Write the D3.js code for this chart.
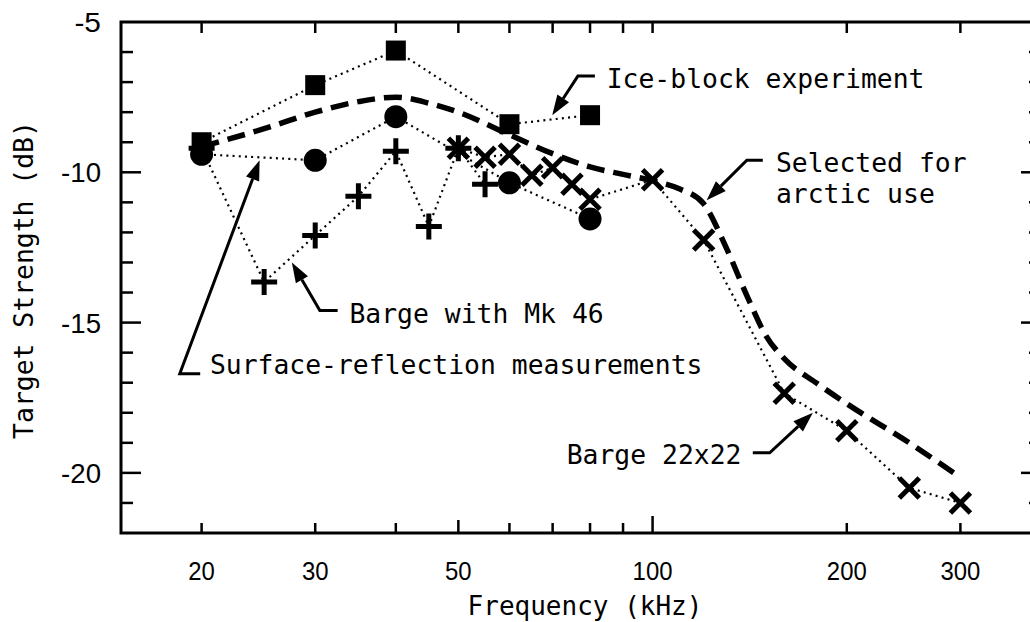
<!DOCTYPE html>
<html><head><meta charset="utf-8">
<script src="https://cdn.jsdelivr.net/npm/d3@7/dist/d3.min.js"></script>
<style>body{margin:0;background:#fff}svg{display:block}</style>
</head><body>
<svg id="chart" width="1030" height="622"></svg>
<script>
// ---------- data ----------
const xTickValues = [20, 30, 40, 50, 60, 70, 80, 90, 100, 200, 300];
const xTickLabels = ["20", "30", "", "50", "", "", "", "", "100", "200", "300"];
const yTickValues = [-5, -10, -15, -20];
const yTickLabels = ["-5", "-10", "-15", "-20"];

const iceFreq = [20, 30, 40, 60, 80];
const iceTS   = [-9.0, -7.1, -5.95, -8.4, -8.1];

const surfFreq = [20, 30, 40, 60, 80];
const surfTS   = [-9.4, -9.6, -8.15, -10.35, -11.55];

const mk46Freq = [20, 25, 30, 35, 40, 45, 50, 55];
const mk46TS   = [-9.2, -13.65, -12.1, -10.8, -9.3, -11.8, -9.2, -10.4];

const bargeFreq = [50, 55, 60, 65, 70, 75, 80, 100, 120, 160, 200, 250, 300];
const bargeTS   = [-9.2, -9.5, -9.4, -10.1, -9.85, -10.4, -10.9, -10.25, -12.25, -17.35, -18.6, -20.5, -21.0];

const arcticFreq = [20, 25, 30, 35, 40, 45, 50, 60, 70, 80, 90, 100, 110, 120, 130, 140, 150, 160, 180, 200, 250, 300];
const arcticTS   = [-9.15, -8.55, -8.0, -7.65, -7.5, -7.7, -8.0, -8.75, -9.38, -9.82, -10.07, -10.28, -10.55, -11.05, -12.5, -14.1, -15.45, -16.2, -17.03, -17.7, -19.0, -20.15];

// annotations (data units): label anchor + arrow path ending at tip
const annoText  = ["Ice-block experiment", "Selected for", "arctic use", "Barge with Mk 46", "Surface-reflection measurements", "Barge 22x22"];
const annoFreq  = [84.9, 155.3, 155.3, 33.9, 20.6, 73.6];
const annoTS    = [-7.2, -10.0, -11.03, -15.0, -16.7, -19.7];
const arrowPaths = [
  [[81.4, -6.8], [76.6, -6.8], [69.9, -8.1]],
  [[148.2, -9.6], [140.0, -9.6], [121.3, -10.93]],
  [[32.5, -14.6], [30.5, -14.6], [27.6, -13.0]],
  [[19.9, -16.7], [18.5, -16.7], [24.6, -9.6]],
  [[143.0, -19.33], [151.9, -19.33], [177.2, -18.0]]
];

// ---------- scales ----------
const svg = d3.select("#chart");
const x = d3.scaleLog().domain([15, 400]).range([121, 1041]);
const y = d3.scaleLinear().domain([-22, -5]).range([533, 22]);
const zip = (fs, vs) => fs.map((f, i) => ({f, v: vs[i]}));
const line = d3.line().x(d => x(d.f)).y(d => y(d.v));

const plot = svg.append("g");

// ---------- frame & ticks ----------
const X0 = x.range()[0], X1 = x.range()[1], Y0 = y.range()[0], Y1 = y.range()[1];
plot.append("rect").attr("x", X0).attr("y", Y1).attr("width", X1 - X0).attr("height", Y0 - Y1)
  .attr("fill", "none").attr("stroke", "#000").attr("stroke-width", 3);

const yMinor = d3.range(-21, -5, 1);
const ax = svg.append("g").attr("stroke", "#000").attr("stroke-width", 2.5);
yMinor.forEach(v => {
  const major = v % 5 === 0;
  const L = major ? 20 : 12;
  ax.append("line").attr("x1", X0).attr("x2", X0 + L).attr("y1", y(v)).attr("y2", y(v));
  ax.append("line").attr("x1", X1).attr("x2", X1 - L).attr("y1", y(v)).attr("y2", y(v));
});
xTickValues.forEach(f => {
  const L = f === 100 ? 17 : (f === 50 ? 13 : 10);
  ax.append("line").attr("x1", x(f)).attr("x2", x(f)).attr("y1", Y0).attr("y2", Y0 - L);
  ax.append("line").attr("x1", x(f)).attr("x2", x(f)).attr("y1", Y1).attr("y2", Y1 + 11);
});

// tick labels
const tickFont = "'Liberation Sans', Arial, sans-serif";
yTickValues.forEach((v, i) => {
  const s = yTickLabels[i];
  svg.append("text").attr("x", 101).attr("y", y(v) + 10)
    .attr("text-anchor", "end").attr("font-family", tickFont).attr("font-size", 27)
    .attr("textLength", s.length * 13.3).attr("lengthAdjust", "spacingAndGlyphs")
    .text(s);
});
xTickValues.forEach((f, i) => {
  const s = xTickLabels[i];
  if (!s) return;
  svg.append("text").attr("x", x(f)).attr("y", 580)
    .attr("text-anchor", "middle").attr("font-family", tickFont).attr("font-size", 25)
    .attr("textLength", s.length * 13.3).attr("lengthAdjust", "spacingAndGlyphs")
    .text(s);
});

const monoFont = "'DejaVu Sans Mono', monospace";
svg.append("text").attr("x", 585).attr("y", 615).attr("text-anchor", "middle")
  .attr("font-family", monoFont).attr("font-size", 26).text("Frequency (kHz)");
svg.append("text").attr("transform", "translate(33,280) rotate(-90)").attr("text-anchor", "middle")
  .attr("font-family", monoFont).attr("font-size", 26.4).text("Target Strength (dB)");

// ---------- series lines ----------
const dotted = {stroke: "#000", "stroke-width": 2.2, "stroke-dasharray": "2,4.2", fill: "none"};
function drawLine(data, attrs, curve) {
  const p = plot.append("path").datum(data)
    .attr("d", curve ? line.curve(curve)(data) : line.curve(d3.curveLinear)(data));
  Object.entries(attrs).forEach(([k, v]) => p.attr(k, v));
}
drawLine(zip(iceFreq, iceTS), dotted);
drawLine(zip(surfFreq, surfTS), dotted);
drawLine(zip(mk46Freq, mk46TS), dotted);
drawLine(zip(bargeFreq, bargeTS), dotted);
drawLine(zip(arcticFreq, arcticTS), {stroke: "#000", "stroke-width": 5.5, "stroke-dasharray": "18,9", fill: "none"}, d3.curveMonotoneX);

// ---------- markers ----------
plot.selectAll(".sq").data(zip(iceFreq, iceTS)).join("rect")
  .attr("x", d => x(d.f) - 10).attr("y", d => y(d.v) - 10).attr("width", 20).attr("height", 20).attr("fill", "#000");
plot.selectAll(".ci").data(zip(surfFreq, surfTS)).join("circle")
  .attr("cx", d => x(d.f)).attr("cy", d => y(d.v)).attr("r", 11.5).attr("fill", "#000");
const plusG = plot.append("g").attr("stroke", "#000").attr("stroke-width", 5);
zip(mk46Freq, mk46TS).forEach(d => {
  const cx = x(d.f), cy = y(d.v), h = 13;
  plusG.append("path").attr("d", `M${cx - h},${cy}H${cx + h}M${cx},${cy - h}V${cy + h}`);
});
const xG = plot.append("g").attr("stroke", "#000").attr("stroke-width", 5);
zip(bargeFreq, bargeTS).forEach(d => {
  const cx = x(d.f), cy = y(d.v), h = 10;
  xG.append("path").attr("d", `M${cx - h},${cy - h}L${cx + h},${cy + h}M${cx - h},${cy + h}L${cx + h},${cy - h}`);
});

// ---------- annotations ----------
annoText.forEach((t, i) => {
  svg.append("text").attr("x", x(annoFreq[i])).attr("y", y(annoTS[i]))
    .attr("font-family", monoFont).attr("font-size", 26.4).text(t);
});
arrowPaths.forEach(pts => {
  const P = pts.map(([f, v]) => [x(f), y(v)]);
  const n = P.length;
  const [tx, ty] = P[n - 1], [px, py] = P[n - 2];
  const ang = Math.atan2(ty - py, tx - px);
  const L = 20, W = 7;
  const bx = tx - L * Math.cos(ang), by = ty - L * Math.sin(ang);
  const lineP = P.slice(0, n - 1).concat([[bx, by]]);
  svg.append("path").attr("d", d3.line()(lineP)).attr("fill", "none").attr("stroke", "#000").attr("stroke-width", 3);
  const nx = -Math.sin(ang), ny = Math.cos(ang);
  svg.append("path").attr("d", d3.line()([[tx, ty], [bx + W * nx, by + W * ny], [bx - W * nx, by - W * ny]]) + "Z").attr("fill", "#000");
});
</script>
</body></html>
